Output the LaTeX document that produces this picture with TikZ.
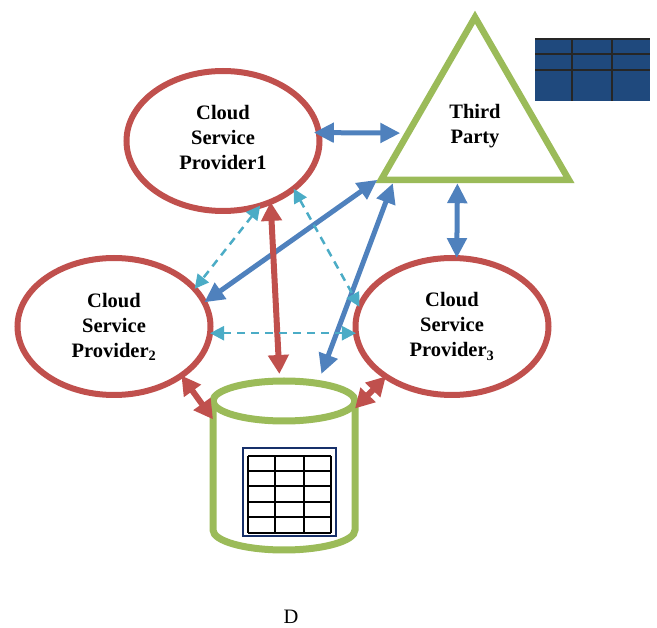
\documentclass[tikz,border=0pt]{standalone}
\usepackage{fontspec}
\setmainfont{Liberation Serif}
\usepackage{tikz}
\usetikzlibrary{shapes.geometric, arrows.meta}
\definecolor{cspred}{HTML}{C0504D}
\definecolor{tpgreen}{HTML}{9BBB59}
\definecolor{linkblue}{HTML}{4F81BD}
\definecolor{dashcyan}{HTML}{4BACC6}
\definecolor{tabnavy}{HTML}{1F497D}
\definecolor{framenavy}{HTML}{17306A}
\tikzset{
	cspfont/.style={font=\fontsize{20.5}{25}\selectfont\bfseries, align=center},
	csp/.style={ellipse, draw=cspred, line width=6pt, outer sep=0pt, minimum width=193pt, minimum height=137pt, cspfont},
	cylline/.style={tpgreen, line width=7pt},
	bluelink/.style={linkblue, line width=5pt, {Triangle[length=20pt,width=19pt]}-{Triangle[length=20pt,width=19pt]}},
	redlink/.style={cspred, line width=6pt, {Triangle[length=19pt,width=20pt]}-{Triangle[length=19pt,width=20pt]}},
	dashlink/.style={dashcyan, line width=2.5pt, dash pattern=on 8pt off 6pt, {Triangle[length=14pt,width=14pt]}-{Triangle[length=14pt,width=14pt]}}
}

\begin{document}
\begin{tikzpicture}[x=1pt, y=-1pt]
\useasboundingbox (0,0) rectangle (657,628);
\node [csp, minimum height=140pt, text depth=8pt] (csp1) at (223,141) {Cloud\\Service\\Provider1};
\node [csp] (csp2) at (114,326.5) {Cloud\\Service\\Provider\textsubscript{2}};
\node [csp] (csp3) at (452,326.5) {Cloud\\Service\\Provider\textsubscript{3}};
\node [regular polygon, regular polygon sides=3, draw=tpgreen, line width=6.5pt, minimum size=217pt, cspfont] (tp) at (475,125.7) {Third\\Party};
\node [rectangle, outer sep=0pt, minimum width=142pt, minimum height=176pt] (db) at (284,462) {};

\draw [cylline] (284,401) ellipse [x radius=71, y radius=20];
\draw [cylline] (213,401) -- (213,530) arc [start angle=180, end angle=0, x radius=71, y radius=20] -- (355,401);

\fill [tabnavy] (535,39) rectangle (650,101);
\draw [black!85, line width=1.5pt] (535,39) -- (650,39) (535,54) -- (650,54) (535,70) -- (650,70) (572,39) -- (572,101) (612,39) -- (612,101);

\draw [framenavy, line width=2.5pt, fill=white] (243,448) rectangle (336,536);
\foreach \y in {456,471,486,502,517,533}
	\draw [black, line width=1.3pt] (248,\y) -- (331,\y);
\foreach \x in {248,275,304,331}
	\draw [black, line width=1.3pt] (\x,456) -- (\x,533);

\draw [bluelink, shorten <=-5pt, shorten >=4pt] (csp1.5) -- (tp.186);
\draw [bluelink] (tp.253) -- (csp3.86);
\draw [bluelink] (csp2.15) -- (tp.209);
\draw [bluelink] (db.67) -- (tp.215);

\draw [redlink] (csp1.-52) -- (db.93);
\draw [redlink] (csp2.-36) -- (db.149);
\draw [redlink] (csp3.217) -- (db.37);

\draw [dashlink] (csp1.-60) -- (csp2.25);
\draw [dashlink] (csp1.-34) -- (csp3.168);
\draw [dashlink] (csp2.-4) -- (csp3.184);

\node [font=\fontsize{20.5}{25}\selectfont] (fig) at (291,617) {D};
\end{tikzpicture}
\end{document}
